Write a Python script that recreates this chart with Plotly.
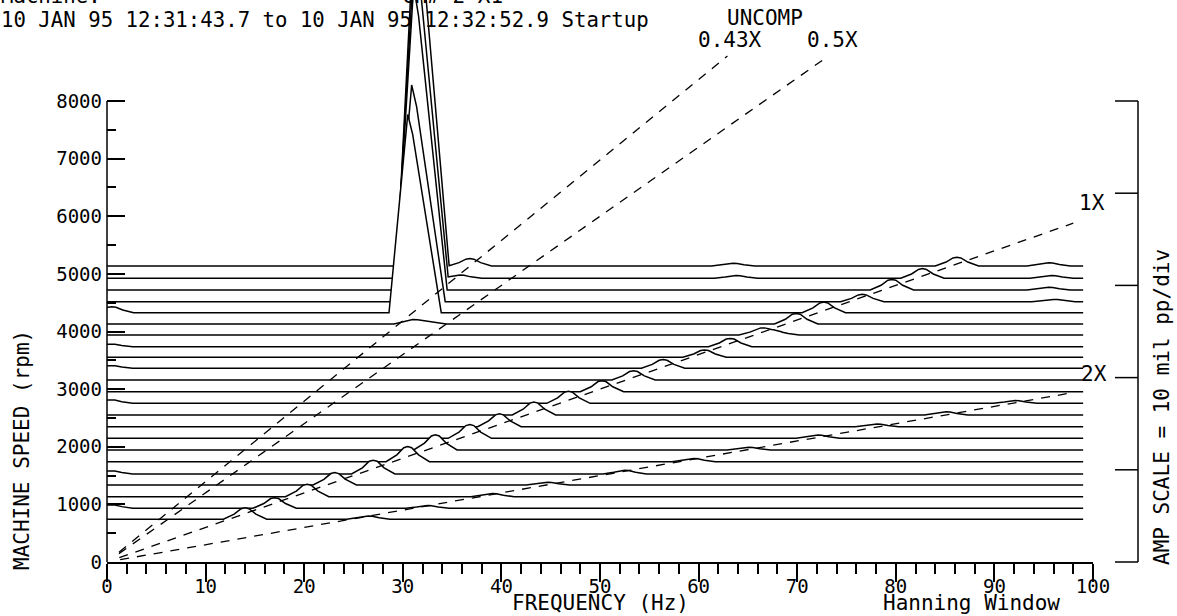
import numpy as np
import plotly.graph_objects as go

# ---------------- data ----------------
# baseline machine speed of each spectrum in the cascade (rpm), front (low) to back (high)
rpm = [741, 932, 1133, 1336, 1527, 1741, 1944, 2147, 2348, 2551, 2754, 2955,
       3158, 3361, 3552, 3736, 3939, 4130, 4326, 4517, 4720, 4923, 5137]
# 1X peak frequency (Hz) and amplitude (mil pp) of each spectrum
f1x = [14.0, 17.0, 20.3, 23.1, 27.0, 30.5, 33.3, 36.8, 39.8, 43.3, 46.8, 50.2,
       53.4, 56.4, 60.6, 63.2, 66.3, 69.9, 72.7, 76.6, 79.6, 82.7, 86.2]
a1x = [1.25, 1.15, 1.35, 1.35, 1.5, 1.65, 1.65, 1.5, 1.4, 1.4, 1.3, 1.2,
       1.0, 0.95, 0.8, 0.9, 0.7, 1.15, 1.15, 0.8, 1.15, 1.05, 0.95]
# 2X peaks (only spectra where 2X is inside 0-100 Hz)
f2x = [26.5, 32.5, 39.1, 44.7, 52.5, 59.5, 65.1, 72.1, 78.1, 85.1, 92.1]
a2x = [0.35, 0.3, 0.35, 0.3, 0.4, 0.35, 0.3, 0.35, 0.3, 0.35, 0.3]
# sub-synchronous (oil whip) component, spectra 17..22
whip_index = [17, 18, 19, 20, 21, 22]
whip_f = [31.0, 30.5, 30.9, 31.1, 31.2, 31.3]
whip_a = [0.5, 21.5, 23.5, 33.0, 36.0, 40.0]
# other small components: (spectrum index, frequency Hz, amplitude mil pp)
extra = [(18, 0.5, 0.65), (10, 0.4, 0.4), (4, 0.4, 0.35), (1, 0.4, 0.4),
         (13, 0.4, 0.3), (15, 0.4, 0.3), (22, 36.8, 0.8), (21, 35.8, 0.35),
         (22, 63.5, 0.3), (21, 63.8, 0.3), (22, 95.5, 0.35), (21, 95.8, 0.3),
         (20, 95.5, 0.3), (19, 96.0, 0.25), (16, 68.0, 0.35)]
F_MAX = 99.0

# order lines
orders = [0.43, 0.5, 1.0, 2.0]
order_start_rpm = [170, 145, 75, 40]
order_end_rpm = [8780, 8780, 5880, 2940]

x_ticks = list(range(0, 101, 10))
y_ticks = list(range(0, 8001, 1000))
amp_divs = [0, 1600, 3200, 4800, 6400, 8000]   # 10 mil pp per division
RPM_PER_MIL = 1600 / 10.0

# ---------------- layout geometry ----------------
W, H = 1177, 616
ML, MR, MT, MB = 107, 84, 0, 54
PW, PH = W - ML - MR, H - MT - MB
Y_TOP = 8000 * PH / (PH - 101)


def px(x):
    return (x - ML) / PW


def py(y):
    return (H - MB - y) / PH


# peak outline templates (offset Hz, fraction of amplitude)
SYNC_OFF = [-2.2, -1.1, -0.4, 0.0, 0.4, 1.1, 2.2]
SYNC_FR = [0.0, 0.45, 0.92, 1.0, 0.92, 0.45, 0.0]
WHIP_OFF = [-1.9, 0.0, 0.5, 3.4]
WHIP_FR = [0.0, 1.0, 0.9, 0.0]

peaks = [[] for _ in rpm]
for i in range(len(rpm)):
    peaks[i].append((f1x[i], a1x[i], SYNC_OFF, SYNC_FR))
for i in range(len(f2x)):
    peaks[i].append((f2x[i], a2x[i], SYNC_OFF, SYNC_FR))
for k, i in enumerate(whip_index):
    peaks[i].append((whip_f[k], whip_a[k], WHIP_OFF, WHIP_FR))
for (i, f, a) in extra:
    peaks[i].append((f, a, SYNC_OFF, SYNC_FR))

fig = go.Figure()

# draw back spectra first; white fill below each line hides the lines behind it
for i in range(len(rpm) - 1, -1, -1):
    pts = [0.0, F_MAX]
    for (f0, a, offs, frs) in peaks[i]:
        pts += [f0 + o for o in offs]
    grid = np.unique(np.clip(np.array(pts), 0.0, F_MAX))
    amp = np.zeros_like(grid)
    for (f0, a, offs, frs) in peaks[i]:
        amp += a * np.interp(grid, f0 + np.array(offs), np.array(frs), left=0, right=0)
    fig.add_trace(go.Scatter(
        x=grid, y=rpm[i] + amp * RPM_PER_MIL, mode="lines",
        line=dict(color="black", width=1.5), fill="tozeroy", fillcolor="white",
        hoverinfo="skip", showlegend=False))

for o, r0, r1 in zip(orders, order_start_rpm, order_end_rpm):
    fig.add_trace(go.Scatter(
        x=[o * r0 / 60.0, o * r1 / 60.0], y=[r0, r1], mode="lines",
        line=dict(color="black", width=1.3, dash="9px,8px"),
        hoverinfo="skip", showlegend=False))

FONT = "DejaVu Sans Mono"
fig.update_layout(
    width=W, height=H,
    margin=dict(l=ML, r=MR, t=MT, b=MB, pad=0),
    paper_bgcolor="white", plot_bgcolor="white",
    font=dict(family=FONT, size=19, color="black"),
    showlegend=False,
    xaxis=dict(range=[0, 100], tickvals=x_ticks, ticks="outside", ticklen=18,
               tickwidth=1.5, tickcolor="black", showline=True, linecolor="black",
               linewidth=1.5, showgrid=False, zeroline=False,
               tickfont=dict(family=FONT, size=19), ticklabelstandoff=-12,
               minor=dict(dtick=2, tick0=0, ticks="outside", ticklen=10,
                          tickwidth=1.5, tickcolor="black", showgrid=False)),
    yaxis=dict(range=[0, Y_TOP], tickvals=y_ticks, ticks="inside", ticklen=18,
               tickwidth=1.5, tickcolor="black", showline=False, showgrid=False,
               zeroline=False, tickfont=dict(family=FONT, size=19),
               ticklabelstandoff=4,
               minor=dict(tickvals=[v + 500 for v in y_ticks[:-1]], ticks="inside",
                          ticklen=9, tickwidth=1.5, tickcolor="black", showgrid=False)),
)

shapes = [dict(type="line", xref="paper", yref="paper", x0=0, x1=0, y0=0,
               y1=8000 / Y_TOP, line=dict(color="black", width=1.5))]
# amplitude scale bracket on the right
bx = px(1138)
shapes.append(dict(type="line", xref="paper", yref="paper", x0=bx, x1=bx,
                   y0=amp_divs[0] / Y_TOP, y1=amp_divs[-1] / Y_TOP,
                   line=dict(color="black", width=1.5)))
for v in amp_divs:
    shapes.append(dict(type="line", xref="paper", yref="paper", x0=px(1115), x1=bx,
                       y0=v / Y_TOP, y1=v / Y_TOP, line=dict(color="black", width=1.5)))
fig.update_layout(shapes=shapes)


def ann(text, x, y, size=21, xanchor="center", angle=0):
    fig.add_annotation(text=text, x=px(x), y=py(y), xref="paper", yref="paper",
                       showarrow=False, xanchor=xanchor, yanchor="middle",
                       textangle=angle, font=dict(family=FONT, size=size, color="black"))


ann("Machine:", -1, -4, size=20.7, xanchor="left")
ann("10 JAN 95 12:31:43.7 to 10 JAN 95 12:32:52.9 Startup", -1, 20, size=20.7,
    xanchor="left")
ann("CH# 2 X1", 452, -4)
ann("UNCOMP", 765, 18)
ann("0.43X", 730, 40)
ann("0.5X", 832, 40)
ann("1X", 1092, 203)
ann("2X", 1094, 374)
ann("MACHINE SPEED (rpm)", 22, 450, angle=-90)
ann("FREQUENCY (Hz)", 600, 603)
ann("Hanning Window", 971, 603)
ann("AMP SCALE = 10 mil pp/div", 1162, 407, angle=-90)

fig.write_html("out.html", config={"displayModeBar": False},
               post_script="document.body.style.margin='0px';")
